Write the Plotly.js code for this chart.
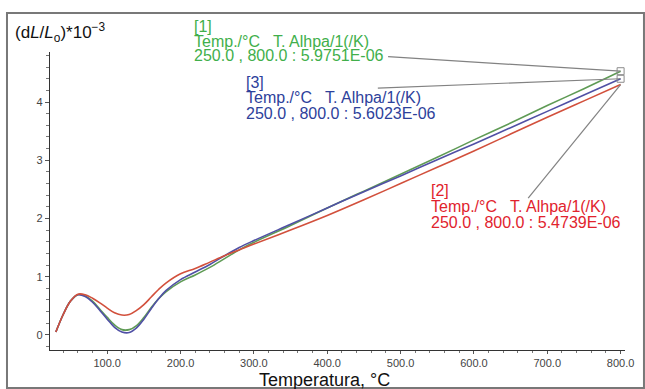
<!DOCTYPE html>
<html>
<head>
<meta charset="utf-8">
<script src="https://cdn.plot.ly/plotly-3.0.1.min.js"></script>
<style>html,body{margin:0;padding:0;background:#fff;}#chart{width:645px;height:389px;}</style>
</head>
<body>
<div id="chart"></div>
<script>
// Temperature (°C)
var temps = [30, 40, 50, 60, 70, 80, 90, 100, 110, 120, 130, 140, 150, 160, 170, 180, 200, 220, 240, 260, 280, 300, 350, 400, 450, 500, 550, 600, 650, 700, 750, 800];
// [1] green
var run1 = [0.05, 0.35, 0.58, 0.69, 0.67, 0.58, 0.44, 0.30, 0.17, 0.09, 0.09, 0.16, 0.30, 0.47, 0.62, 0.74, 0.91, 1.03, 1.16, 1.31, 1.46, 1.59, 1.88, 2.18, 2.47, 2.76, 3.05, 3.35, 3.64, 3.94, 4.23, 4.53];
// [2] red
var run2 = [0.05, 0.35, 0.58, 0.70, 0.69, 0.63, 0.55, 0.46, 0.38, 0.34, 0.35, 0.42, 0.52, 0.65, 0.78, 0.89, 1.05, 1.14, 1.25, 1.36, 1.46, 1.56, 1.80, 2.05, 2.32, 2.60, 2.88, 3.16, 3.45, 3.74, 4.02, 4.30];
// [3] blue
var run3 = [0.05, 0.35, 0.58, 0.69, 0.66, 0.56, 0.42, 0.27, 0.13, 0.05, 0.04, 0.12, 0.27, 0.45, 0.62, 0.76, 0.95, 1.08, 1.21, 1.36, 1.50, 1.62, 1.90, 2.18, 2.46, 2.73, 3.01, 3.28, 3.56, 3.84, 4.12, 4.40];

var labels1 = ["[1]", "Temp./°C   T. Alhpa/1(/K)", "250.0 , 800.0 : 5.9751E-06"];
var labels2 = ["[2]", "Temp./°C   T. Alhpa/1(/K)", "250.0 , 800.0 : 5.4739E-06"];
var labels3 = ["[3]", "Temp./°C   T. Alhpa/1(/K)", "250.0 , 800.0 : 5.6023E-06"];
var xTitle = "Temperatura, °C";
var yTitle = "(d<i>L</i>/<i>L</i><sub>o</sub>)*10<sup>−3</sup>";

var cGreenLine = "rgb(95,155,85)", cRedLine = "rgb(210,80,60)", cBlueLine = "rgb(80,80,165)";
var cGreenTxt = "rgb(65,175,75)", cRedTxt = "rgb(225,35,45)", cBlueTxt = "rgb(45,65,155)";

var last = temps.length - 1;
var traces = [
  {x: temps, y: run1, mode: "lines", line: {color: cGreenLine, width: 1.6, shape: "spline"}, hoverinfo: "none"},
  {x: temps, y: run3, mode: "lines", line: {color: cBlueLine, width: 1.6, shape: "spline"}, hoverinfo: "none"},
  {x: temps, y: run2, mode: "lines", line: {color: cRedLine, width: 1.6, shape: "spline"}, hoverinfo: "none"},
  {x: [temps[last], temps[last]], y: [run1[last], run3[last]], mode: "markers",
   marker: {symbol: "square-open", size: 7, color: "rgb(140,140,140)", line: {width: 1}}, hoverinfo: "none"}
];

var ann = [];
function block(lines, xp, ys, col) {
  for (var i = 0; i < lines.length; i++) {
    ann.push({text: lines[i], xref: "paper", yref: "paper", x: xp, y: ys[i], xanchor: "left", yanchor: "middle",
      showarrow: false, borderpad: 0, font: {family: "Liberation Sans, Arial", size: 16, color: col}});
  }
}
block(labels1, 0.2487, [1.0872, 1.0369, 0.9866], cGreenTxt);
block(labels3, 0.339, [0.896, 0.8473, 0.7953], cBlueTxt);
block(labels2, 0.6609, [0.5336, 0.4799, 0.4262], cRedTxt);
ann.push({text: yTitle, xref: "paper", yref: "paper", x: -0.0643, y: 1.0638, xanchor: "left", yanchor: "middle",
  showarrow: false, font: {family: "Liberation Sans, Arial", size: 17, color: "#111"}});
ann.push({text: xTitle, xref: "paper", yref: "paper", x: 0.478, y: -0.1007, xanchor: "center", yanchor: "middle",
  showarrow: false, font: {family: "Liberation Sans, Arial", size: 18, color: "#111"}});

var shapes = [
  {type: "rect", xref: "paper", yref: "paper", x0: -0.0748, x1: 1.033, y0: -0.1275, y1: 1.131,
   line: {color: "rgb(120,120,120)", width: 2}, fillcolor: "rgba(0,0,0,0)"},
  {type: "line", xref: "x", yref: "y", x0: 483, y0: 4.78, x1: temps[last], y1: run1[last], line: {color: "rgb(130,130,130)", width: 1.2}},
  {type: "line", xref: "x", yref: "y", x0: 469, y0: 4.24, x1: temps[last], y1: run3[last], line: {color: "rgb(130,130,130)", width: 1.2}},
  {type: "line", xref: "x", yref: "y", x0: 674, y0: 2.35, x1: temps[last], y1: run2[last], line: {color: "rgb(130,130,130)", width: 1.2}}
];

var layout = {
  width: 645, height: 389,
  margin: {l: 50, r: 20, t: 52, b: 39, pad: 0},
  paper_bgcolor: "#fff", plot_bgcolor: "#fff",
  showlegend: false,
  font: {family: "Liberation Sans, Arial", color: "#444"},
  xaxis: {range: [22, 806], showgrid: false, zeroline: false, showline: true, linecolor: "#333", linewidth: 1.2,
    tickmode: "linear", tick0: 100, dtick: 100, tickformat: ".1f", ticks: "outside", ticklen: 3, tickcolor: "#555",
    tickfont: {size: 11, color: "#444"},
    minor: {dtick: 20, tick0: 0, ticks: "outside", ticklen: 2, tickcolor: "#777"}},
  yaxis: {range: [-0.26, 4.86], showgrid: false, zeroline: false, showline: true, linecolor: "#333", linewidth: 1.2,
    tickmode: "linear", tick0: 0, dtick: 1, ticks: "outside", ticklen: 4, tickcolor: "#555",
    tickfont: {size: 11, color: "#444"},
    minor: {dtick: 0.2, tick0: 0, ticks: "outside", ticklen: 3, tickcolor: "#777"}},
  annotations: ann,
  shapes: shapes
};

Plotly.newPlot("chart", traces, layout, {staticPlot: true, displayModeBar: false});
</script>
</body>
</html>
